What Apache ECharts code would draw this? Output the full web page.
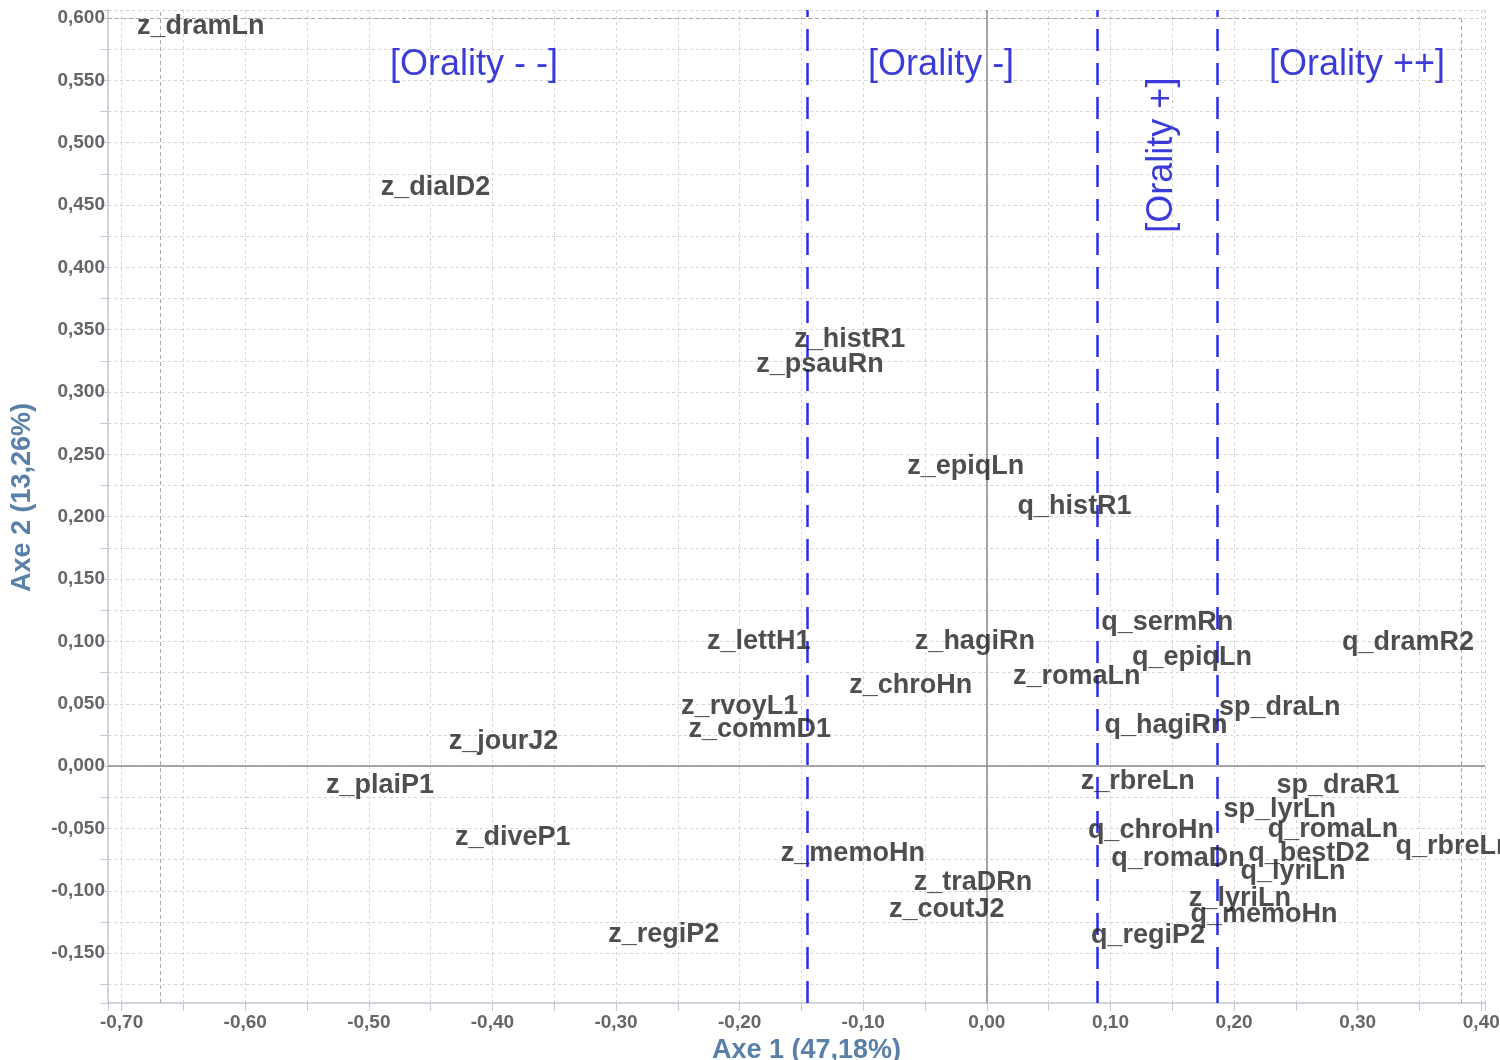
<!DOCTYPE html>
<html><head><meta charset="utf-8">
<script src="https://cdn.jsdelivr.net/npm/echarts@6/dist/echarts.min.js"></script>
<style>html,body{margin:0;padding:0;background:#fff}#c{width:1500px;height:1060px}</style>
</head><body><div id="c"></div>
<script>
// Point labels and coordinates (Axe 1, Axe 2)
const labels = ['z_dramLn','z_dialD2','z_histR1','z_psauRn','z_epiqLn','q_histR1','q_sermRn','z_lettH1','z_hagiRn','q_dramR2',
  'q_epiqLn','z_romaLn','z_chroHn','sp_draLn','z_rvoyL1','z_commD1','q_hagiRn','z_jourJ2','z_plaiP1','z_rbreLn',
  'sp_draR1','sp_lyrLn','q_romaLn','z_diveP1','q_chroHn','q_rbreLn','q_romaDn','q_bestD2','z_memoHn','q_lyriLn',
  'z_traDRn','z_lyriLn','q_memoHn','z_coutJ2','z_regiP2','q_regiP2'];
const axe1 = [-0.636,-0.446,-0.111,-0.135,-0.017,0.071,0.146,-0.1845,-0.0097,0.3407,
  0.166,0.0728,-0.0615,0.237,-0.200,-0.1837,0.1449,-0.391,-0.491,0.122,
  0.284,0.237,0.280,-0.3836,0.1327,0.378,0.1546,0.2606,-0.1084,0.2476,
  -0.0113,0.2047,0.2242,-0.0324,-0.2614,0.1303];
const axe2 = [0.593,0.464,0.342,0.322,0.240,0.208,0.1155,0.100,0.0995,0.0987,
  0.0874,0.0722,0.065,0.0473,0.0481,0.0297,0.0329,0.020,-0.0152,-0.012,
  -0.0152,-0.0345,-0.0505,-0.057,-0.0513,-0.0642,-0.0738,-0.0698,-0.0698,-0.0842,
  -0.093,-0.1059,-0.1187,-0.1147,-0.1348,-0.1356];

// Zone annotations
const zoneNames = ['[Orality - -]','[Orality -]','[Orality +]','[Orality ++]'];
const zoneX = [-0.415,-0.037,0.1416,0.2994];
const zoneY = [0.5625,0.5625,0.490,0.5625];
const zoneRotate = [0,0,90,0];
const zoneBounds = [-0.1449, 0.0890, 0.1860];

// Data frame lines
const frameLeft = -0.6690, frameRight = 0.3840, frameTop = 0.600;

const xMin = -0.711, xMax = 0.403, yMin = -0.19, yMax = 0.6064;

const FONT = '"Liberation Sans", Arial, sans-serif';
const gridLine = {show:true, lineStyle:{color:'#d4d4d4', type:[3,3], width:1}};

const chart = echarts.init(document.getElementById('c'), null, {renderer:'canvas'});

const pts = labels.map((n,i)=>({name:n, value:[axe1[i], axe2[i]]}));
const zones = zoneNames.map((n,i)=>({name:n, value:[zoneX[i], zoneY[i]], label:{rotate:zoneRotate[i]}}));

const markData = [
  {xAxis:0, lineStyle:{color:'#8a8a8a', type:'solid', width:1.5}},
  {yAxis:0, lineStyle:{color:'#8a8a8a', type:'solid', width:1.5}},
  {xAxis:frameLeft, lineStyle:{color:'#a8a8a8', type:[4,3], width:1}},
  [{coord:[frameRight, yMin], lineStyle:{color:'#a8a8a8', type:[4,3], width:1}}, {coord:[frameRight, frameTop]}],
  [{coord:[xMin, frameTop], lineStyle:{color:'#a8a8a8', type:[4,3], width:1}}, {coord:[frameRight, frameTop]}]
].concat(zoneBounds.map(v=>({xAxis:v, lineStyle:{color:'#2b2bee', type:[22,12], width:2.5}})));

chart.setOption({
  animation:false,
  backgroundColor:'#fff',
  grid:{left:108, right:15, top:10, bottom:57, containLabel:false, outerBoundsMode:'none'},
  xAxis:{
    type:'value', min:xMin, max:xMax, splitNumber:11,
    name:'Axe 1 (47,18%)', nameLocation:'middle', nameGap:26,
    nameTextStyle:{color:'#5b80a8', fontSize:27, fontWeight:'bold', fontFamily:FONT, padding:[0,0,0,20]},
    axisLine:{show:true, onZero:false, lineStyle:{color:'#c5c8d8', width:1.5}},
    axisTick:{show:true, length:8, lineStyle:{color:'#c5c8d8'}},
    minorTick:{show:true, splitNumber:2, length:8, lineStyle:{color:'#c5c8d8'}},
    axisLabel:{showMinLabel:false, showMaxLabel:false, margin:10, color:'#666', fontSize:19, fontWeight:'bold', fontFamily:FONT,
      formatter:v=>v.toFixed(2).replace('-0.00','0.00').replace('.',',')},
    splitLine:gridLine,
    minorSplitLine:gridLine
  },
  yAxis:{
    type:'value', min:yMin, max:yMax, splitNumber:16,
    name:'Axe 2 (13,26%)', nameLocation:'middle', nameGap:72, nameRotate:90,
    nameTextStyle:{color:'#5b80a8', fontSize:27, fontWeight:'bold', fontFamily:FONT, padding:[0,0,0,18]},
    axisLine:{show:true, onZero:false, lineStyle:{color:'#c5c8d8', width:1.5}},
    axisTick:{show:true, length:8, lineStyle:{color:'#c5c8d8'}},
    minorTick:{show:true, splitNumber:2, length:8, lineStyle:{color:'#c5c8d8'}},
    axisLabel:{showMinLabel:false, showMaxLabel:false, margin:3, color:'#666', fontSize:19, fontWeight:'bold', fontFamily:FONT,
      formatter:v=>v.toFixed(3).replace('-0.000','0.000').replace('.',',')},
    splitLine:gridLine,
    minorSplitLine:gridLine
  },
  series:[
    {
      type:'scatter', data:pts, symbolSize:0, silent:true,
      label:{show:true, position:'inside', formatter:'{b}', color:'#222', fontSize:27, fontWeight:'bold', fontFamily:FONT},
      markLine:{silent:true, precision:6, symbol:['none','none'], label:{show:false}, animation:false, data:markData},
      z:5
    },
    {
      type:'scatter', data:zones, symbolSize:0, silent:true,
      label:{show:true, position:'inside', formatter:'{b}', color:'#0a0ad0', fontSize:36, fontFamily:FONT},
      z:6
    }
  ]
});
</script></body></html>
